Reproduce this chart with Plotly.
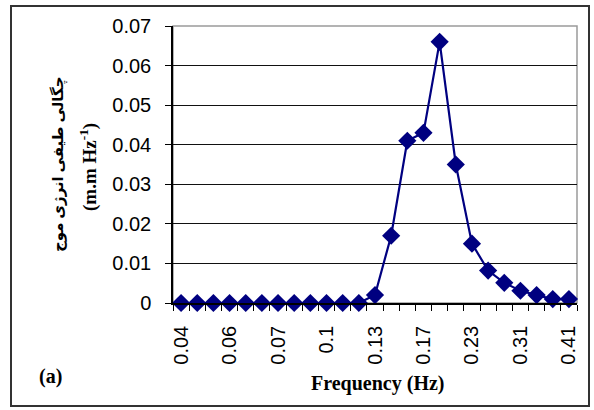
import plotly.graph_objects as go

# Data
spectral_density = [0, 0, 0, 0, 0, 0, 0, 0, 0, 0, 0, 0,
                    0.002, 0.017, 0.041, 0.043, 0.066, 0.035, 0.015,
                    0.0082, 0.0051, 0.0031, 0.002, 0.001, 0.001]
point_index = list(range(len(spectral_density)))
tick_labels = ["0.04", "0.06", "0.07", "0.1", "0.13", "0.17", "0.23", "0.31", "0.41"]
tick_positions = point_index[::3]

navy = "#000080"
tick_font = dict(family="Liberation Sans, Arial, sans-serif", size=20, color="black")
serif_bold = "Liberation Serif, Times New Roman, DejaVu Serif, DejaVu Sans, serif"

fig = go.Figure()
fig.add_trace(go.Scatter(
    x=point_index, y=spectral_density, mode="lines+markers",
    line=dict(color=navy, width=2.2),
    marker=dict(symbol="diamond", size=14, color=navy),
    showlegend=False, cliponaxis=False,
))

W, H = 594, 410
L, R, T, B = 173, 17, 26, 107
pw, ph = W - L - R, H - T - B

def px(x):
    return (x - L) / pw

def py(y):
    return (H - B - y) / ph

fig.update_layout(
    width=W, height=H,
    margin=dict(l=L, r=R, t=T, b=B, pad=0),
    paper_bgcolor="white", plot_bgcolor="white",
    xaxis=dict(
        range=[-0.5, len(spectral_density) - 0.5],
        tickmode="array", tickvals=tick_positions, ticktext=tick_labels,
        tickangle=-90, tickfont=tick_font, ticks="",
        showgrid=False, zeroline=False,
        showline=True, linecolor="black", linewidth=1.5,
        minor=dict(tick0=-0.5, dtick=1, ticks="outside", ticklen=6,
                   tickcolor="black", tickwidth=1, showgrid=False),
        ticklabelstandoff=13,
    ),
    yaxis=dict(
        range=[0, 0.07], dtick=0.01, tick0=0,
        tickfont=tick_font, ticks="outside", ticklen=6, tickcolor="black",
        showgrid=True, gridcolor="#111111", gridwidth=1,
        zeroline=False,
        showline=True, linecolor="black", linewidth=1.5,
        ticklabelstandoff=10,
    ),
    shapes=[
        dict(type="rect", xref="paper", yref="paper", x0=0, x1=1, y0=0, y1=1,
             line=dict(color="#9a9a9a", width=1.5), layer="below"),
        dict(type="rect", xref="paper", yref="paper",
             x0=px(11), x1=px(589), y0=py(406), y1=py(6),
             line=dict(color="#333333", width=2)),
    ],
    annotations=[
        dict(text="<b>چگالی طیفی انرژی موج</b>",
             xref="paper", yref="paper", x=px(58), y=py(165),
             textangle=-90, showarrow=False,
             font=dict(family=serif_bold, size=15, color="black"),
             xanchor="center", yanchor="middle"),
        dict(text="<b>(m.m Hz<sup>-1</sup>)</b>",
             xref="paper", yref="paper", x=px(88), y=py(167),
             textangle=-90, showarrow=False,
             font=dict(family=serif_bold, size=19, color="black"),
             xanchor="center", yanchor="middle"),
        dict(text="<b>Frequency (Hz)</b>", xref="paper", yref="paper",
             x=px(378), y=py(383), showarrow=False,
             font=dict(family=serif_bold, size=20, color="black"),
             xanchor="center", yanchor="middle"),
        dict(text="<b>(a)</b>", xref="paper", yref="paper",
             x=px(50), y=py(376), showarrow=False,
             font=dict(family=serif_bold, size=20, color="black"),
             xanchor="center", yanchor="middle"),
    ],
)

fig.write_html("out.html", config={"displayModeBar": False},
               post_script="document.body.style.margin='0';")
